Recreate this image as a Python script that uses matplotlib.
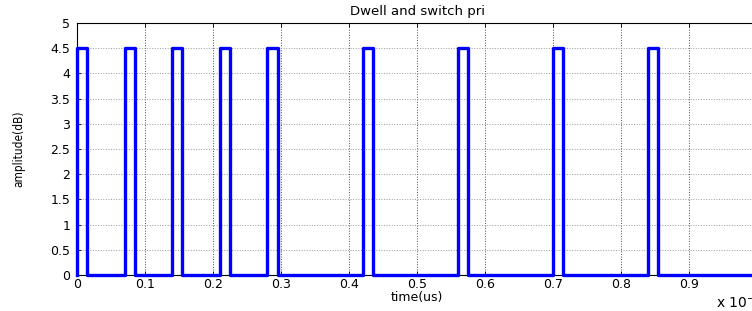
import numpy as np
import matplotlib
matplotlib.use("Agg")
import matplotlib.pyplot as plt

# pulse train (time in units of 1e-4 us, as in the original axis)
pulse_starts = [0.0, 0.07, 0.14, 0.21, 0.28, 0.42, 0.56, 0.70, 0.84]
pulse_width = 0.015
amplitude = 4.5
t_end = 1.0

xticks = [0, 0.1, 0.2, 0.3, 0.4, 0.5, 0.6, 0.7, 0.8, 0.9]
yticks = [0, 0.5, 1, 1.5, 2, 2.5, 3, 3.5, 4, 4.5, 5]

# build the rectangular waveform from the pulse list
t = []
a = []
for s in pulse_starts:
    t += [s, s, s + pulse_width, s + pulse_width]
    a += [0, amplitude, amplitude, 0]
t.append(t_end)
a.append(0)

plt.rcParams['font.family'] = ['DejaVu Sans']

fig = plt.figure(figsize=(7.52, 3.11), dpi=100)
ax = fig.add_axes([77 / 752, 36 / 311, 680 / 752, 252 / 311])

ax.plot(t, a, color=(0, 0, 1), linewidth=2.4, clip_on=False, zorder=3)

ax.set_xlim(0, 1)
ax.set_ylim(0, 5)
ax.set_xticks(xticks)
ax.set_yticks(yticks)
ax.set_xticklabels(['0' if v == 0 else f'{v:g}' for v in xticks])
ax.set_yticklabels([f'{v:g}' for v in yticks])
ax.tick_params(axis='both', direction='in', length=3, width=0.6, top=True,
               right=True, labelsize=9, colors='black')
ax.tick_params(axis='x', pad=2)
ax.tick_params(axis='y', pad=5)

ax.xaxis.grid(True, color='0.3', linestyle=':', linewidth=0.7)
ax.yaxis.grid(True, color='0.6', linestyle=':', linewidth=0.7)
for sp in ax.spines.values():
    sp.set_linewidth(0.8)

ax.set_title('Dwell and switch pri', fontsize=9.5, pad=6)
ax.set_xlabel('time(us)', fontsize=9, labelpad=0)
ax.set_ylabel('amplitude(dB)', fontsize=8.5, fontstretch='condensed', labelpad=18)

fig.text(716 / 752, 9 / 311, r'x 10$^{-4}$', fontsize=10, ha='left', va='center')

fig.savefig('out.png', dpi=100)
